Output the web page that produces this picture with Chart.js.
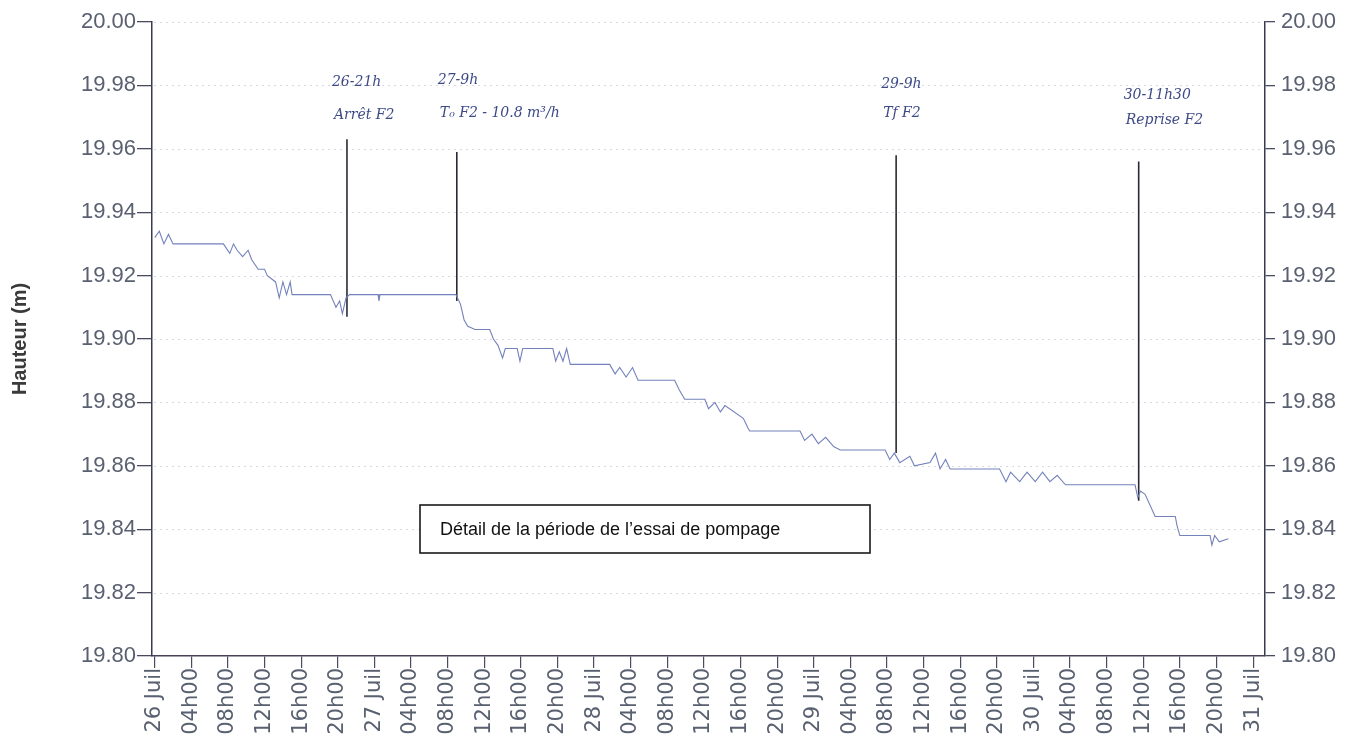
<!DOCTYPE html>
<html>
<head>
<meta charset="utf-8">
<script src="https://cdn.jsdelivr.net/npm/chart.js@4"></script>
<style>
  html, body { margin: 0; padding: 0; background: #ffffff; }
  canvas { display: block; }
</style>
</head>
<body>
<canvas id="chart" width="1355" height="748"></canvas>
<script>
// Water level record, hours counted from 26 Juil 00h00
const hours = [
  0.0, 0.5, 1.0, 1.5, 2.0, 7.5, 8.2, 8.6, 9.0, 9.6, 10.2, 10.6, 11.3, 12.0, 12.3,
  13.2, 13.6, 14.0, 14.4, 14.8, 15.0, 19.2, 19.8, 20.2, 20.5, 20.9, 21.3, 24.4, 24.5,
  24.6, 32.9, 33.4, 33.8, 34.2, 35.0, 36.6, 37.0, 37.5, 38.0, 38.3, 39.6, 39.9, 40.2,
  43.5, 43.8, 44.2, 44.6, 45.0, 45.4, 49.7, 50.3, 50.8, 51.5, 52.2, 52.8, 53.6, 56.8,
  57.3, 57.9, 60.1, 60.5, 61.2, 61.8, 62.3, 64.3, 64.8, 65.0, 70.5, 71.0, 71.8, 72.5,
  73.3, 74.2, 74.9, 79.8, 80.3, 80.8, 81.4, 82.5, 83.0, 84.7, 85.3, 85.8, 86.4, 86.9,
  92.3, 93.0, 93.5, 94.5, 95.3, 96.2, 97.0, 97.8, 98.6, 99.5, 107.1, 107.4, 107.7,
  108.2, 109.3, 111.5, 111.7, 112.0, 112.6, 115.3, 115.5, 115.8, 116.3, 117.3
];
const levels = [
  19.932, 19.934, 19.930, 19.933, 19.930, 19.930, 19.927, 19.930, 19.928, 19.926, 19.928, 19.925, 19.922, 19.922, 19.920,
  19.918, 19.913, 19.918, 19.914, 19.918, 19.914, 19.914, 19.910, 19.912, 19.908, 19.913, 19.914, 19.914, 19.912,
  19.914, 19.914, 19.911, 19.906, 19.904, 19.903, 19.903, 19.900, 19.898, 19.894, 19.897, 19.897, 19.893, 19.897,
  19.897, 19.893, 19.896, 19.893, 19.897, 19.892, 19.892, 19.889, 19.891, 19.888, 19.891, 19.887, 19.887, 19.887,
  19.884, 19.881, 19.881, 19.878, 19.880, 19.877, 19.879, 19.875, 19.872, 19.871, 19.871, 19.868, 19.870, 19.867,
  19.869, 19.866, 19.865, 19.865, 19.862, 19.864, 19.861, 19.863, 19.860, 19.861, 19.864, 19.859, 19.862, 19.859,
  19.859, 19.855, 19.858, 19.855, 19.858, 19.855, 19.858, 19.855, 19.857, 19.854, 19.854, 19.850, 19.852,
  19.851, 19.844, 19.844, 19.841, 19.838, 19.838, 19.838, 19.835, 19.838, 19.836, 19.837
];

// Pump events (vertical markers)
const eventHours = [21, 33, 81, 107.5];
const eventBase  = [19.907, 19.912, 19.864, 19.849];
const eventTop   = [19.963, 19.959, 19.958, 19.956];
const eventDate  = ['26-21h', '27-9h', '29-9h', '30-11h30'];
const eventNote  = ['Arrêt F2', 'T\u2080 F2 - 10.8 m\u00b3/h', 'Tf F2', 'Reprise F2'];

// Axis ticks
const yTicks = [19.80, 19.82, 19.84, 19.86, 19.88, 19.90, 19.92, 19.94, 19.96, 19.98, 20.00];
const xTickHours = [0, 4, 8, 12, 16, 20, 24, 28, 32, 36, 40, 44, 48, 52, 56, 60, 64, 68, 72,
                    76, 80, 84, 88, 92, 96, 100, 104, 108, 112, 116, 120];
const xTickLabels = [
  '26 Juil', '04h00', '08h00', '12h00', '16h00', '20h00',
  '27 Juil', '04h00', '08h00', '12h00', '16h00', '20h00',
  '28 Juil', '04h00', '08h00', '12h00', '16h00', '20h00',
  '29 Juil', '04h00', '08h00', '12h00', '16h00', '20h00',
  '30 Juil', '04h00', '08h00', '12h00', '16h00', '20h00',
  '31 Juil'
];
const boxText = 'Détail de la période de l\u2019essai de pompage';
const yTitle = 'Hauteur (m)';

const FONT = '"Liberation Sans", Arial, sans-serif';
const WIDE = '"DejaVu Sans", Verdana, sans-serif';
const HAND = '"DejaVu Serif", serif';

const datasets = [{
  data: hours.map((h, i) => ({ x: h, y: levels[i] })),
  borderColor: '#7482bb',
  borderWidth: 1.1,
  pointRadius: 0,
  tension: 0,
  yAxisID: 'y'
}];
eventHours.forEach((h, i) => {
  datasets.push({
    data: [{ x: h, y: eventBase[i] }, { x: h, y: eventTop[i] }],
    borderColor: '#2a2a35',
    borderWidth: 1.6,
    pointRadius: 0,
    yAxisID: 'y'
  });
});

// Dotted horizontal guides, handwritten notes, caption box and axis title
const decor = {
  id: 'decor',
  beforeDatasetsDraw(chart) {
    const { ctx, chartArea: a, scales: { y } } = chart;
    ctx.save();
    ctx.strokeStyle = 'rgba(150,155,175,0.38)';
    ctx.lineWidth = 1;
    ctx.setLineDash([2, 4]);
    yTicks.forEach(v => {
      if (v <= 19.80) return;
      const py = Math.round(y.getPixelForValue(v)) + 0.5;
      ctx.beginPath();
      ctx.moveTo(a.left + 2, py);
      ctx.lineTo(a.right - 2, py);
      ctx.stroke();
    });
    ctx.restore();
  },
  afterDraw(chart) {
    const { ctx, chartArea: a, scales: { x } } = chart;
    ctx.save();
    // handwritten event notes
    ctx.fillStyle = '#3d4a86';
    ctx.font = 'italic 14px ' + HAND;
    ctx.textBaseline = 'middle';
    ctx.textAlign = 'left';
    const rowDate = [82, 80, 84, 95];
    const rowNote = [115, 113, 113, 120];
    const shift = [-15, -19, -15, -15];
    eventHours.forEach((h, i) => {
      const px = x.getPixelForValue(h) + shift[i];
      ctx.fillText(eventDate[i], px, rowDate[i]);
      ctx.fillText(eventNote[i], px + 2, rowNote[i]);
    });
    // caption box
    const bx = a.left + 268, by = 505, bw = 450, bh = 48;
    ctx.fillStyle = '#ffffff';
    ctx.fillRect(bx, by, bw, bh);
    ctx.strokeStyle = '#1a1a1a';
    ctx.lineWidth = 1.6;
    ctx.strokeRect(bx, by, bw, bh);
    ctx.fillStyle = '#111111';
    ctx.font = '18px ' + FONT;
    ctx.textBaseline = 'middle';
    ctx.fillText(boxText, bx + 20, by + bh / 2 + 1);
    // y axis title
    ctx.translate(20, (a.top + a.bottom) / 2);
    ctx.rotate(-Math.PI / 2);
    ctx.textAlign = 'center';
    ctx.font = 'bold 20px ' + FONT;
    ctx.fillStyle = '#3a3a3a';
    ctx.fillText(yTitle, 0, 0);
    ctx.restore();
  }
};

const yAxis = (pos, width, tick, pad) => ({
  type: 'linear',
  position: pos,
  min: 19.80,
  max: 20.00,
  afterBuildTicks: s => { s.ticks = yTicks.map(v => ({ value: v })); },
  afterFit: s => { s.width = width; },
  ticks: {
    callback: v => Number(v).toFixed(2),
    font: { family: FONT, size: 22 },
    color: '#596070',
    padding: pad
  },
  grid: { drawOnChartArea: false, tickLength: tick, color: '#4a4a60', lineWidth: 1.3 },
  border: { color: '#3a3a50', width: 1.5 }
});

new Chart(document.getElementById('chart'), {
  type: 'line',
  data: { datasets },
  options: {
    responsive: false,
    animation: false,
    parsing: true,
    layout: { padding: { top: 22, left: 0, right: 0, bottom: 0 } },
    plugins: { legend: { display: false }, tooltip: { enabled: false } },
    scales: {
      x: {
        type: 'linear',
        position: 'bottom',
        min: -0.3,
        max: 121.3,
        afterBuildTicks: s => { s.ticks = xTickHours.map(v => ({ value: v })); },
        afterFit: s => { s.height = 92; },
        ticks: {
          callback: (v, i) => xTickLabels[i],
          font: { family: WIDE, size: 21 },
          color: '#596070',
          minRotation: 90,
          maxRotation: 90,
          autoSkip: false,
          padding: 0
        },
        grid: { drawOnChartArea: false, tickLength: 12, color: '#4a4a60', lineWidth: 1.2 },
        border: { color: '#4a4058', width: 1.5 }
      },
      y: yAxis('left', 152, 15, 1),
      y2: yAxis('right', 90, 10, 6)
    }
  },
  plugins: [decor]
});
</script>
</body>
</html>
